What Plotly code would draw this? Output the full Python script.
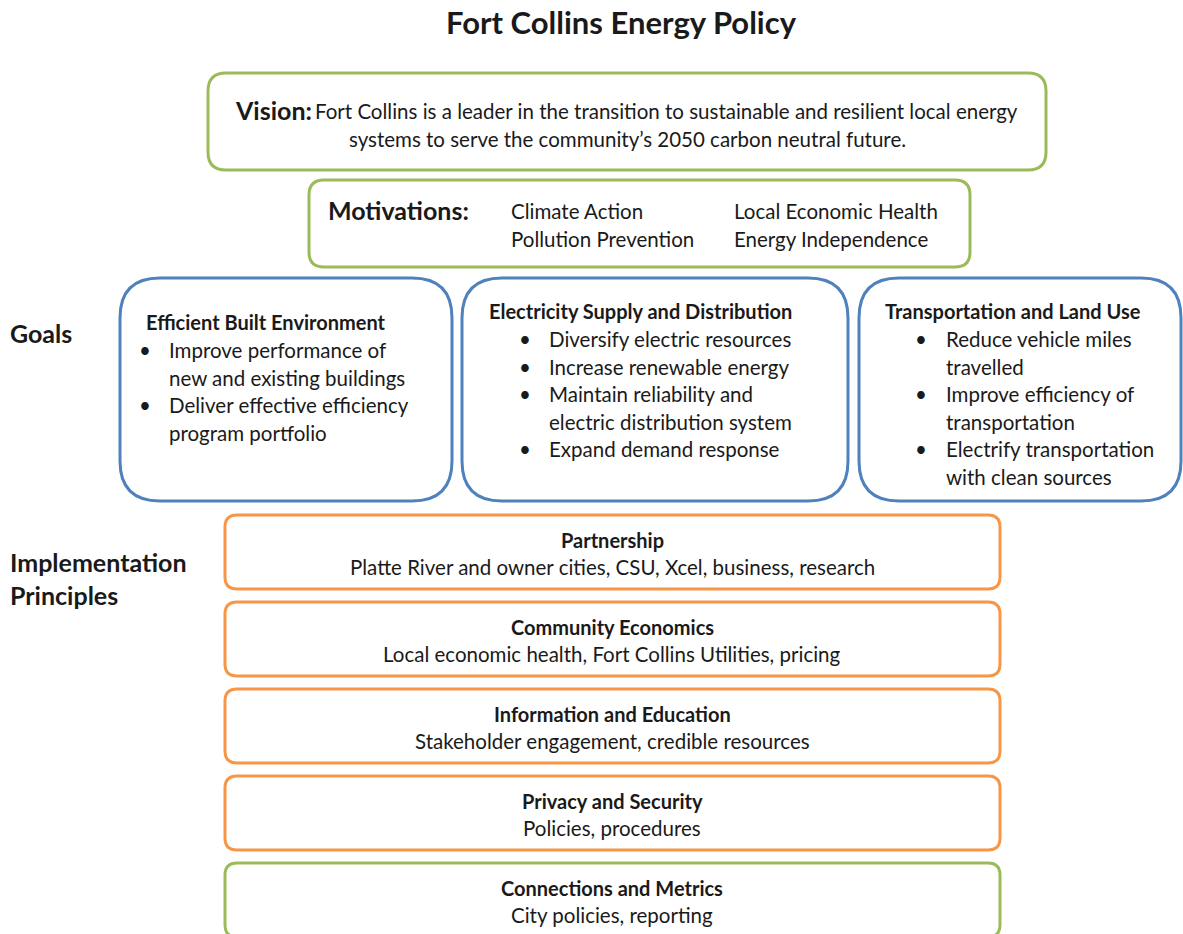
import plotly.graph_objects as go

W, H = 1183, 934
FONT = "Lato"
INK = "#1a1a1a"
GREEN, BLUE, ORANGE = "#9BBB59", "#4F81BD", "#F79646"

# ---- content ----
title = "Fort Collins Energy Policy"
vision_label = "Vision:"
vision_lines = [
    "Fort Collins is a leader in the transition to sustainable and resilient local energy",
    "systems to serve the community\u2019s 2050 carbon neutral future.",
]
motivation_label = "Motivations:"
motivations_left = ["Climate Action", "Pollution Prevention"]
motivations_right = ["Local Economic Health", "Energy Independence"]

goal_titles = [
    "Efficient Built Environment",
    "Electricity Supply and Distribution",
    "Transportation and Land Use",
]
goal_bullets = [
    [["Improve performance of", "new and existing buildings"],
     ["Deliver effective efficiency", "program portfolio"]],
    [["Diversify electric resources"],
     ["Increase renewable energy"],
     ["Maintain reliability and", "electric distribution system"],
     ["Expand demand response"]],
    [["Reduce vehicle miles", "travelled"],
     ["Improve efficiency of", "transportation"],
     ["Electrify transportation", "with clean sources"]],
]

principle_titles = [
    "Partnership",
    "Community Economics",
    "Information and Education",
    "Privacy and Security",
    "Connections and Metrics",
]
principle_details = [
    "Platte River and owner cities, CSU, Xcel, business, research",
    "Local economic health, Fort Collins Utilities, pricing",
    "Stakeholder engagement, credible resources",
    "Policies, procedures",
    "City policies, reporting",
]
principle_colors = [ORANGE, ORANGE, ORANGE, ORANGE, GREEN]

# ---- layout geometry ----
BODY, SUB, LABEL = 20.5, 20, 25
goal_boxes = [(120, 278, 452, 501), (462, 278, 848, 501), (859, 278, 1181, 501)]
goal_title_pos = [(144, 322), (487, 311), (883, 311)]
goal_bullet_x = [(145, 167), (525, 547), (921, 944)]
LINE_H = 27.5
principle_tops = [515, 602, 689, 776, 863]
PR_H = 74


def rrect(x0, y0, x1, y1, r):
    return (f"M{x0 + r},{y0} L{x1 - r},{y0} Q{x1},{y0} {x1},{y0 + r} "
            f"L{x1},{y1 - r} Q{x1},{y1} {x1 - r},{y1} L{x0 + r},{y1} "
            f"Q{x0},{y1} {x0},{y1 - r} L{x0},{y0 + r} Q{x0},{y0} {x0 + r},{y0} Z")


fig = go.Figure()
shapes, notes = [], []


def box(x0, y0, x1, y1, r, color):
    shapes.append(dict(type="path", path=rrect(x0, y0, x1, y1, r),
                       line=dict(color=color, width=3), fillcolor="white",
                       xref="x", yref="y", layer="below"))


def text(x, y, s, size=BODY, bold=False, anchor="left"):
    notes.append(dict(x=x, y=y, text=f"<b>{s}</b>" if bold else s, showarrow=False,
                      xref="x", yref="y", xanchor=anchor, yanchor="middle",
                      font=dict(family=FONT, size=size, color=INK)))


text(621, 22, title, size=31, bold=True, anchor="center")

box(208, 73, 1046, 170, 18, GREEN)
text(233, 110, vision_label, size=LABEL, bold=True)
text(313, 111, vision_lines[0])
text(627, 139, vision_lines[1], anchor="center")

box(309, 180, 970, 267, 15, GREEN)
text(326, 210, motivation_label, size=LABEL, bold=True)
for i, (a, b) in enumerate(zip(motivations_left, motivations_right)):
    text(509, 211 + 28 * i, a)
    text(732, 211 + 28 * i, b)

text(8, 333, "Goals", size=LABEL, bold=True)
for (x0, y0, x1, y1), (tx, ty), (bx, lx), gt, bl in zip(
        goal_boxes, goal_title_pos, goal_bullet_x, goal_titles, goal_bullets):
    box(x0, y0, x1, y1, 40, BLUE)
    text(tx, ty, gt, size=SUB, bold=True)
    y = ty + 28
    for item in bl:
        text(bx, y, "\u2022", size=BODY, anchor="center")
        for line in item:
            text(lx, y, line)
            y += LINE_H

text(8, 562, "Implementation", size=LABEL, bold=True)
text(8, 595, "Principles", size=LABEL, bold=True)
for top, pt, pd, col in zip(principle_tops, principle_titles, principle_details, principle_colors):
    box(225, top, 1000, top + PR_H, 12, col)
    text(612, top + 25, pt, size=SUB, bold=True, anchor="center")
    text(612, top + 52, pd, anchor="center")

fig.update_layout(
    width=W, height=H,
    margin=dict(l=0, r=0, t=0, b=0),
    paper_bgcolor="white", plot_bgcolor="white",
    xaxis=dict(range=[0, W], visible=False, fixedrange=True),
    yaxis=dict(range=[H, 0], visible=False, fixedrange=True),
    shapes=shapes, annotations=notes, showlegend=False,
)
fig.write_html("out.html", config={"displayModeBar": False},
               post_script="document.body.style.margin='0';document.body.style.overflow='hidden';")
